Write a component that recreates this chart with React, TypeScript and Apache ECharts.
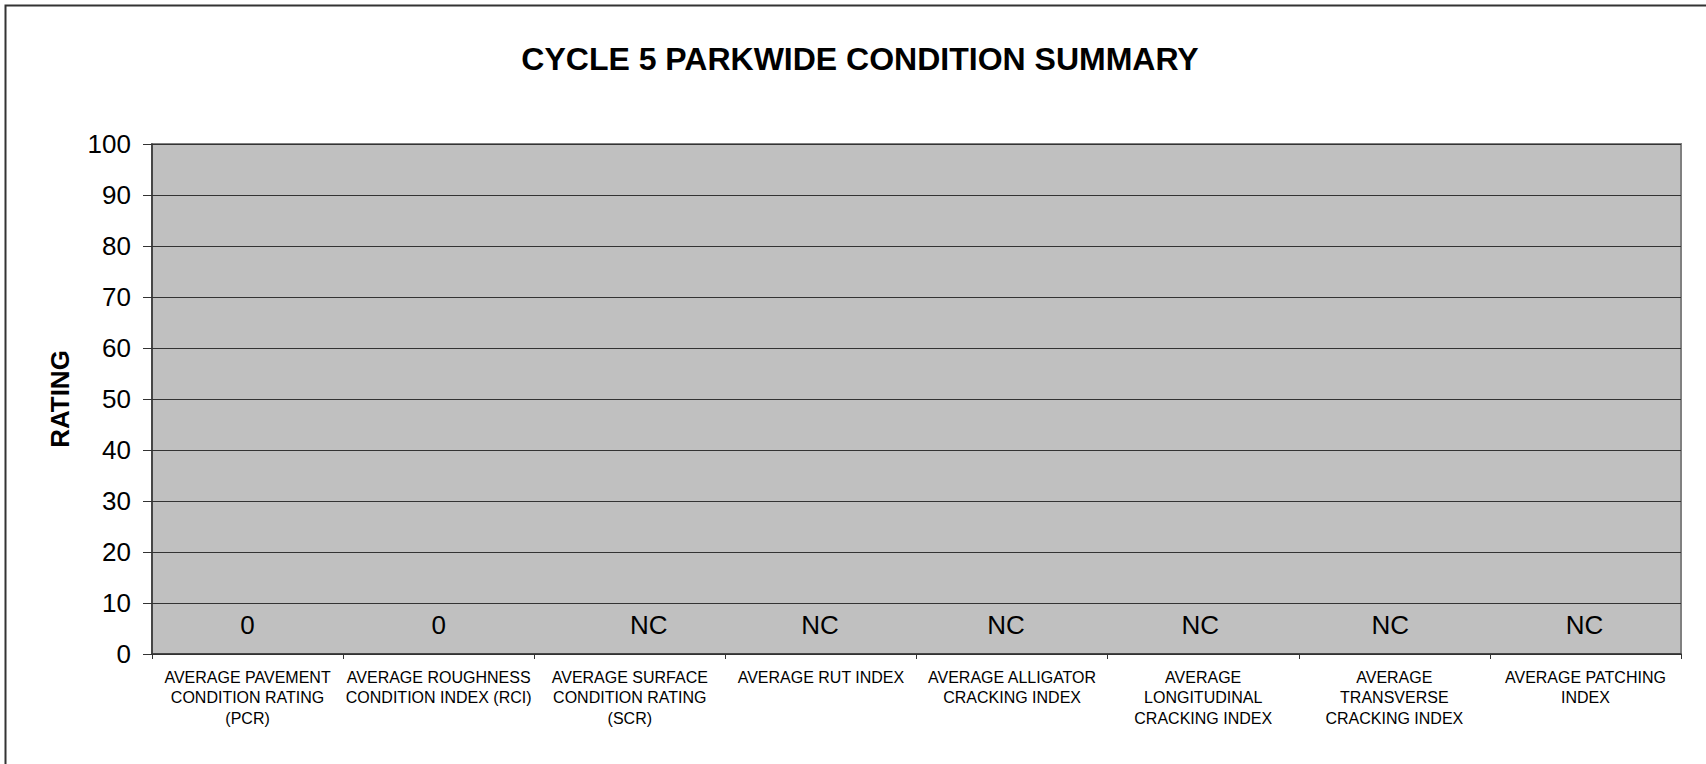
import React, { useEffect, useRef } from "react";
import * as echarts from "echarts";

const TITLE = "CYCLE 5 PARKWIDE CONDITION SUMMARY";
const Y_AXIS_NAME = "RATING";
const categories: string[] = [
  "AVERAGE PAVEMENT\nCONDITION RATING\n(PCR)",
  "AVERAGE ROUGHNESS\nCONDITION INDEX (RCI)",
  "AVERAGE SURFACE\nCONDITION RATING\n(SCR)",
  "AVERAGE RUT INDEX",
  "AVERAGE ALLIGATOR\nCRACKING INDEX",
  "AVERAGE\nLONGITUDINAL\nCRACKING INDEX",
  "AVERAGE\nTRANSVERSE\nCRACKING INDEX",
  "AVERAGE PATCHING\nINDEX",
];
// null = not collected ("NC")
const values: (number | null)[] = [0, 0, null, null, null, null, null, null];
const NO_DATA_LABEL = "NC";
const Y_MIN = 0;
const Y_MAX = 100;
const Y_INTERVAL = 10;

// small horizontal nudges of the data labels, as placed in the original
const labelNudgeX: number[] = [0, 0, 19, -1, -6, -3, -4, -1];

const FONT = "'Liberation Sans', Arial, Helvetica, sans-serif";

export default function App() {
  const ref = useRef<HTMLDivElement>(null);
  useEffect(() => {
    if (!ref.current) return;
    const chart = echarts.init(ref.current, null, { renderer: "svg" });
    chart.setOption({
      animation: false,
      backgroundColor: "#ffffff",
      textStyle: { fontFamily: FONT },
      title: {
        text: TITLE,
        left: 855,
        top: 38,
        textAlign: "center",
        textStyle: { fontFamily: FONT, fontSize: 32, fontWeight: "bold", color: "#000" },
      },
      graphic: [
        {
          type: "rect",
          shape: { x: 5.5, y: 5.5, width: 1800, height: 900 },
          style: { fill: "none", stroke: "#333333", lineWidth: 2 },
          silent: true,
        },
      ],
      grid: {
        left: 152,
        top: 144,
        width: 1529,
        height: 510,
        show: true,
        backgroundColor: "#C0C0C0",
        borderColor: "#808080",
        borderWidth: 2,
        containLabel: false,
      },
      xAxis: {
        type: "category",
        data: categories,
        boundaryGap: true,
        axisLine: { show: true, lineStyle: { color: "#333333", width: 1.5 } },
        axisTick: { show: true, length: 5, alignWithLabel: false, lineStyle: { color: "#333333" } },
        axisLabel: {
          interval: 0,
          margin: 13,
          fontFamily: FONT,
          fontSize: 16,
          lineHeight: 20.5,
          color: "#000",
          align: "center",
        },
        splitLine: { show: false },
      },
      yAxis: {
        type: "value",
        min: Y_MIN,
        max: Y_MAX,
        interval: Y_INTERVAL,
        name: Y_AXIS_NAME,
        nameLocation: "middle",
        nameGap: 79,
        nameTextStyle: { fontFamily: FONT, fontSize: 26, fontWeight: "bold", color: "#000" },
        axisLine: { show: true, lineStyle: { color: "#333333", width: 1.5 } },
        axisTick: { show: true, length: 9, lineStyle: { color: "#333333" } },
        axisLabel: { margin: 21, fontFamily: FONT, fontSize: 26, color: "#000" },
        splitLine: { show: true, lineStyle: { color: "#333333", width: 1 } },
      },
      series: [
        {
          type: "bar",
          barWidth: "60%",
          itemStyle: { color: "#9999FF" },
          data: values.map((v, i) => ({
            value: v === null ? 0 : v,
            label: {
              formatter: v === null ? NO_DATA_LABEL : String(v),
              offset: [labelNudgeX[i] || 0, 0],
            },
          })),
          label: {
            show: true,
            position: "top",
            distance: 16,
            fontFamily: FONT,
            fontSize: 26,
            lineHeight: 26,
            color: "#000",
          },
        },
      ],
    });
    return () => chart.dispose();
  }, []);
  return (
    <div
      ref={ref}
      style={{ position: "fixed", left: 0, top: 0, width: 1706, height: 764 }}
    />
  );
}
